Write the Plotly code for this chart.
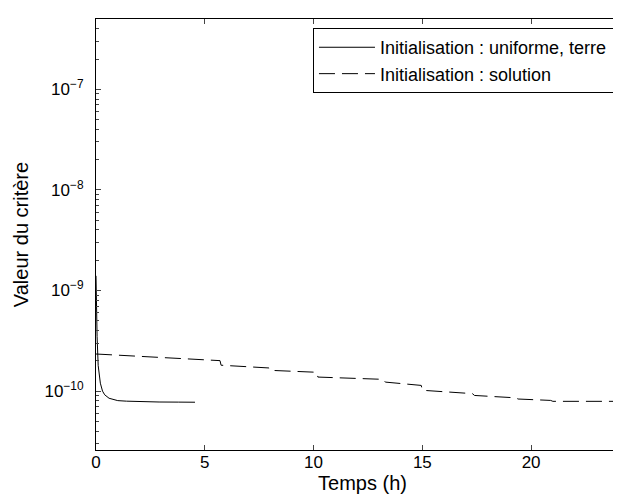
import plotly.graph_objects as go

# courbe 1 : initialisation uniforme, terre
t_uniforme = [0, 0.02, 0.05, 0.1, 0.15, 0.2, 0.3, 0.4, 0.6, 0.8, 1.0, 1.4, 2.0, 2.9, 3.8, 4.55]
crit_uniforme = [1.4e-9, 7e-10, 3.5e-10, 1.8e-10, 1.4e-10, 1.2e-10, 1.0e-10, 9.2e-11, 8.5e-11,
                 8.2e-11, 8.05e-11, 7.95e-11, 7.85e-11, 7.8e-11, 7.78e-11, 7.76e-11]

# courbe 2 : initialisation solution
t_solution = [0, 5.7, 5.75, 7.95, 8.0, 10.15, 10.2, 13.2, 13.3, 14.95, 15.0,
              17.3, 17.4, 19.3, 19.4, 20.9, 21.0, 24.5]
crit_solution = [2.34e-10, 2.01e-10, 1.81e-10, 1.70e-10, 1.61e-10, 1.54e-10, 1.38e-10,
                 1.31e-10, 1.23e-10, 1.14e-10, 1.02e-10, 9.45e-11, 9.06e-11, 8.58e-11,
                 8.35e-11, 8.09e-11, 7.92e-11, 7.92e-11]

x_ticks = [0, 5, 10, 15, 20]
y_ticks = [1e-10, 1e-9, 1e-8, 1e-7]
y_ticktext = ["10<sup>−10</sup>", "10<sup>−9</sup>", "10<sup>−8</sup>", "10<sup>−7</sup>"]

FONT = "Liberation Sans, Arial, Helvetica, sans-serif"
PAD = "\u00a0\u00a0"   # un peu de marge à droite dans la légende

fig = go.Figure()
fig.add_trace(go.Scatter(x=t_uniforme, y=crit_uniforme, mode="lines",
                         name="Initialisation : uniforme, terre" + PAD,
                         line=dict(color="black", width=1)))
fig.add_trace(go.Scatter(x=t_solution, y=crit_solution, mode="lines",
                         name="Initialisation : solution",
                         line=dict(color="black", width=1, dash="16px,7px")))

minor_vals = [m * 10.0 ** e for e in range(-11, -6) for m in range(2, 10)]

fig.update_layout(
    width=621, height=494,
    margin=dict(l=88, r=0, t=11, b=52),
    paper_bgcolor="white", plot_bgcolor="white",
    font=dict(family=FONT, size=17, color="black"),
    showlegend=True,
    legend=dict(x=0.9887, y=0.979, xanchor="right", yanchor="top",
                bordercolor="black", borderwidth=1, bgcolor="white",
                font=dict(size=18), itemwidth=56, tracegroupgap=0),
    xaxis=dict(range=[0, 24.5], tickvals=x_ticks, ticks="inside", ticklen=5,
               showline=True, linecolor="black", linewidth=1, mirror="ticks",
               showgrid=False, zeroline=False, ticklabelstandoff=-3,
               title=dict(text="Temps (h)", standoff=0)),
    yaxis=dict(type="log", range=[-10.585, -6.301], tickvals=y_ticks, ticktext=y_ticktext,
               ticks="inside", ticklen=5, showline=True, linecolor="black", linewidth=1,
               showgrid=False, zeroline=False, ticklabelstandoff=8,
               minor=dict(tickvals=minor_vals, ticks="inside", ticklen=3, showgrid=False),
               title=dict(text="Valeur du critère", standoff=10)),
)

fig.write_html("out.html")
